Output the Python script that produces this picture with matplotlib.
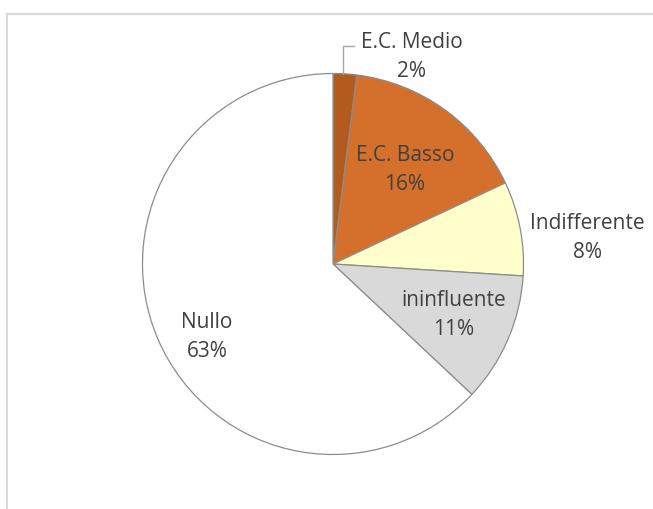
import matplotlib.pyplot as plt
from matplotlib.lines import Line2D

labels = ['E.C. Medio', 'E.C. Basso', 'Indifferente', 'ininfluente', 'Nullo']
values = [2, 16, 8, 11, 63]
colors = ['#B35A1F', '#D4702B', '#FFFFCC', '#D9D9D9', '#FFFFFF']

plt.rcParams['font.family'] = ['Open Sans', 'DejaVu Sans']
TEXT = '#404040'
FS = 15
LS = 1.45

fig = plt.figure(figsize=(6.53, 5.09), dpi=100, facecolor='w')

# chart area border (cropped at right / bottom)
bx, by = 6.5 / 653, 1 - 13.5 / 509
fig.add_artist(Line2D([bx, bx, 1.05], [-0.05, by, by], transform=fig.transFigure,
                      color='#D9D9D9', linewidth=1.5))

# pie: center (333, 264), radius 190 px
cx, cy, r = 333, 264, 190.5
ax = fig.add_axes([(cx - r) / 653, 1 - (cy + r) / 509, 2 * r / 653, 2 * r / 509])
wedges, _ = ax.pie(values, colors=colors, startangle=90, counterclock=False,
                   radius=1.0,
                   wedgeprops=dict(edgecolor='#8C8C8C', linewidth=0.9))
ax.set_xlim(-1, 1)
ax.set_ylim(-1, 1)
ax.set_aspect('auto')
ax.axis('off')


def px(x, y):
    return ((x - cx) / r, (cy - y) / r)


pos = {
    'E.C. Basso': (405, 170),
    'Indifferente': (587, 238),
    'ininfluente': (454, 315),
    'Nullo': (207, 337),
}
for lab, v in zip(labels, values):
    if lab in pos:
        x, y = px(*pos[lab])
        ax.text(x, y, f'{lab}\n{v}%', ha='center', va='center', fontsize=FS,
                color=TEXT, linespacing=LS, clip_on=False)

# outside label with leader line for the small slice
x, y = px(412, 57)
ax.text(x, y, f'{labels[0]}\n{values[0]}%', ha='center', va='center', fontsize=FS,
        color=TEXT, linespacing=LS, clip_on=False)
lx = [px(343, 74), px(343, 46), px(354, 46)]
ax.plot([p[0] for p in lx], [p[1] for p in lx], color='#A6A6A6', lw=1.0,
        clip_on=False)

fig.savefig('out.png', dpi=100)
